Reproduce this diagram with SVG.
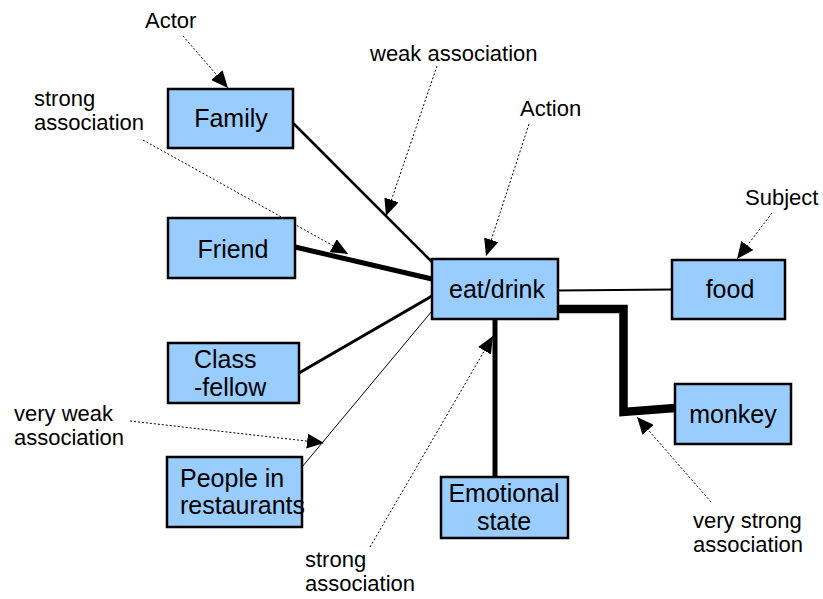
<svg xmlns="http://www.w3.org/2000/svg" width="823" height="599" viewBox="0 0 823 599">
  <style>
    .box { fill: #99ccff; stroke: #000; stroke-width: 2.5; }
    .node { font-family: "Liberation Sans", Arial, sans-serif; font-size: 25px; fill: #000; }
    .label { font-family: "Liberation Sans", Arial, sans-serif; font-size: 22px; fill: #000; }
    .link { fill: none; stroke: #000; stroke-linecap: butt; stroke-linejoin: miter; }
    .note { fill: none; stroke: #000; stroke-width: 1; stroke-dasharray: 2 2; }
  </style>
  <defs>
    <marker id="tri" viewBox="0 0 17 15" refX="17" refY="7.5" markerWidth="17" markerHeight="15" markerUnits="userSpaceOnUse" orient="auto">
      <path d="M0,0 L17,7.5 L0,15 z" fill="#000"/>
    </marker>
  </defs>

  <rect width="823" height="599" fill="#fff"/>

  <!-- association lines between concepts -->
  <g id="connectors">
    <line class="link" x1="293" y1="123" x2="432" y2="262" stroke-width="2.5"/>
    <line class="link" x1="295" y1="247" x2="432" y2="279" stroke-width="5"/>
    <line class="link" x1="299" y1="373" x2="432" y2="296" stroke-width="3"/>
    <line class="link" x1="302" y1="467" x2="432" y2="311" stroke-width="1"/>
    <line class="link" x1="558" y1="290.5" x2="672" y2="289.5" stroke-width="2"/>
    <line class="link" x1="495" y1="319" x2="495" y2="477" stroke-width="5"/>
    <polyline class="link" points="558,309 623.5,309 623.5,412 675,408" stroke-width="8.5"/>
  </g>

  <!-- annotation arrows -->
  <g id="annotations">
    <line class="note" x1="183" y1="36" x2="228" y2="88" marker-end="url(#tri)"/>
    <line class="note" x1="437" y1="66" x2="386" y2="216" marker-end="url(#tri)"/>
    <line class="note" x1="143" y1="140" x2="348" y2="254" marker-end="url(#tri)"/>
    <line class="note" x1="529" y1="124" x2="486" y2="256" marker-end="url(#tri)"/>
    <line class="note" x1="772" y1="213" x2="737" y2="259" marker-end="url(#tri)"/>
    <line class="note" x1="130" y1="421" x2="324" y2="443" marker-end="url(#tri)"/>
    <line class="note" x1="370" y1="547" x2="493" y2="336" marker-end="url(#tri)"/>
    <line class="note" x1="711" y1="502" x2="637" y2="417" marker-end="url(#tri)"/>
  </g>

  <!-- concept nodes -->
  <g id="family">
    <rect class="box" x="168" y="89" width="125" height="59"/>
    <text class="node" x="231" y="127" text-anchor="middle">Family</text>
  </g>
  <g id="friend">
    <rect class="box" x="168" y="218" width="127" height="60"/>
    <text class="node" x="233" y="258" text-anchor="middle">Friend</text>
  </g>
  <g id="classfellow">
    <rect class="box" x="168" y="343" width="131" height="60"/>
    <text class="node" x="194" y="368">Class</text>
    <text class="node" x="194" y="396">-fellow</text>
  </g>
  <g id="people">
    <rect class="box" x="167" y="457" width="135" height="70"/>
    <text class="node" x="180" y="487">People in</text>
    <text class="node" x="180" y="514">restaurants</text>
  </g>
  <g id="eatdrink">
    <rect class="box" x="432" y="259" width="126" height="60"/>
    <text class="node" x="497" y="298" text-anchor="middle">eat/drink</text>
  </g>
  <g id="food">
    <rect class="box" x="672" y="260" width="113" height="59"/>
    <text class="node" x="730" y="298" text-anchor="middle">food</text>
  </g>
  <g id="monkey">
    <rect class="box" x="675" y="384" width="116" height="60"/>
    <text class="node" x="733" y="423" text-anchor="middle">monkey</text>
  </g>
  <g id="emotional">
    <rect class="box" x="441" y="477" width="127" height="61"/>
    <text class="node" x="504" y="502" text-anchor="middle">Emotional</text>
    <text class="node" x="504" y="530" text-anchor="middle">state</text>
  </g>

  <!-- annotation texts -->
  <g id="labels">
    <text class="label" x="145" y="28">Actor</text>
    <text class="label" x="370" y="61">weak association</text>
    <text class="label" x="34" y="106">strong</text>
    <text class="label" x="34" y="130">association</text>
    <text class="label" x="520" y="116">Action</text>
    <text class="label" x="745" y="205">Subject</text>
    <text class="label" x="14" y="421">very weak</text>
    <text class="label" x="14" y="445">association</text>
    <text class="label" x="305" y="567">strong</text>
    <text class="label" x="305" y="591">association</text>
    <text class="label" x="693" y="528">very strong</text>
    <text class="label" x="693" y="552">association</text>
  </g>
</svg>
